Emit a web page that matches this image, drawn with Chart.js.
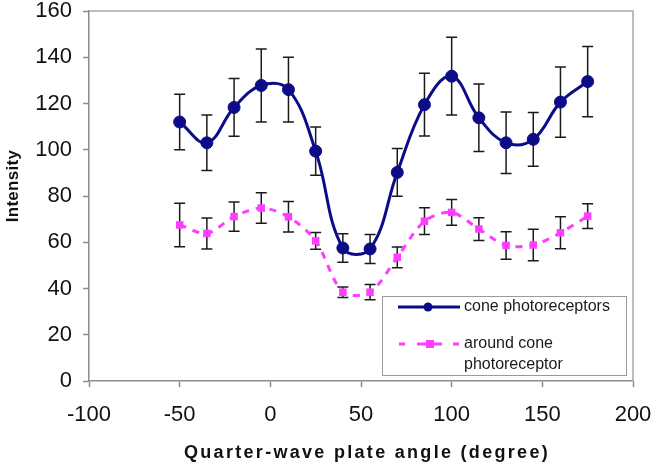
<!DOCTYPE html>
<html><head><meta charset="utf-8">
<script src="https://cdn.jsdelivr.net/npm/chart.js@4"></script>
<style>html,body{margin:0;padding:0;background:#fff;overflow:hidden}canvas{display:block}</style>
</head><body>
<canvas id="c" width="656" height="468"></canvas>
<script>
const angles = [-50, -35, -20, -5, 10, 25, 40, 55, 70, 85, 100, 115, 130, 145, 160, 175];
const coneValues = [112, 103, 118.3, 127.8, 126, 99.4, 57.5, 57.1, 90.2, 119.5, 131.8, 113.8, 103, 104.5, 120.6, 129.5];
const coneErrors = [12, 12, 12.5, 15.8, 14, 10.4, 6.2, 6.3, 10.3, 13.6, 16.8, 14.6, 13.3, 11.6, 15.2, 15.2];
const aroundValues = [67.5, 63.8, 71.1, 74.8, 71, 60.6, 38.4, 38.4, 53.5, 69.1, 72.9, 65.7, 58.6, 58.8, 64.1, 71.3];
const aroundErrors = [9.4, 6.7, 6.3, 6.6, 6.6, 3.6, 2.3, 3.3, 4.5, 5.8, 5.6, 4.9, 5.9, 6.8, 6.9, 5.4];
const xTicks = [-100, -50, 0, 50, 100, 150, 200];
const yTicks = [0, 20, 40, 60, 80, 100, 120, 140, 160];
const coneName = 'cone photoreceptors';
const aroundNameLines = ['around cone', 'photoreceptor'];
const xTitle = 'Quarter-wave plate angle (degree)';
const yTitle = 'Intensity';

const BLUE = '#0c0c88';
const PINK = '#ff3cff';
const FONT = '"Liberation Sans", Arial, sans-serif';

const toPoints = vals => angles.map((a, i) => ({x: a, y: vals[i]}));
const errorsByDataset = [coneErrors, aroundErrors];

const errorBars = {
  id: 'errorBars',
  beforeDatasetsDraw(chart) {
    const {ctx, scales: {x, y}, chartArea} = chart;
    ctx.save();
    ctx.strokeStyle = '#1a1a1a';
    ctx.lineWidth = 1.5;
    chart.data.datasets.forEach((ds, di) => {
      const errs = errorsByDataset[di];
      ds.data.forEach((p, i) => {
        const px = x.getPixelForValue(p.x);
        const top = y.getPixelForValue(p.y + errs[i]);
        const bot = y.getPixelForValue(p.y - errs[i]);
        ctx.beginPath();
        ctx.moveTo(px, top); ctx.lineTo(px, bot);
        ctx.moveTo(px - 5.5, top); ctx.lineTo(px + 5.5, top);
        ctx.moveTo(px - 5.5, bot); ctx.lineTo(px + 5.5, bot);
        ctx.stroke();
      });
    });
    ctx.restore();
  }
};

const frame = {
  id: 'frame',
  beforeDatasetsDraw(chart) {
    const {ctx, chartArea: a} = chart;
    ctx.save();
    ctx.strokeStyle = '#a8a8a8';
    ctx.lineWidth = 1.5;
    ctx.beginPath();
    ctx.moveTo(a.left, a.top); ctx.lineTo(a.right, a.top); ctx.lineTo(a.right, a.bottom);
    ctx.stroke();
    ctx.restore();
  }
};

const titles = {
  id: 'titles',
  afterDraw(chart) {
    const {ctx} = chart;
    ctx.save();
    ctx.fillStyle = '#111';
    ctx.font = 'bold 18px ' + FONT;
    ctx.letterSpacing = '2.3px';
    ctx.textAlign = 'center';
    ctx.textBaseline = 'alphabetic';
    ctx.fillText(xTitle, 367, 458);
    ctx.letterSpacing = '0.3px';
    ctx.font = 'bold 17px ' + FONT;
    ctx.translate(18, 186);
    ctx.rotate(-Math.PI / 2);
    ctx.fillText(yTitle, 0, 0);
    ctx.restore();
  }
};

const legendBox = {
  id: 'legendBox',
  afterDatasetsDraw(chart) {
    const {ctx} = chart;
    ctx.save();
    ctx.fillStyle = '#fff';
    ctx.strokeStyle = '#9a9a9a';
    ctx.lineWidth = 1;
    ctx.fillRect(382, 296, 244, 79);
    ctx.strokeRect(382.5, 296.5, 244, 79);
    // cone entry
    ctx.strokeStyle = BLUE;
    ctx.lineWidth = 3;
    ctx.beginPath(); ctx.moveTo(398, 307); ctx.lineTo(460, 307); ctx.stroke();
    ctx.fillStyle = BLUE;
    ctx.beginPath(); ctx.arc(428, 307, 4.5, 0, Math.PI * 2); ctx.fill();
    // around entry
    ctx.strokeStyle = PINK;
    ctx.lineWidth = 3;
    ctx.beginPath();
    ctx.moveTo(399, 344); ctx.lineTo(405, 344);
    ctx.moveTo(417, 344); ctx.lineTo(442, 344);
    ctx.moveTo(453, 344); ctx.lineTo(459, 344);
    ctx.stroke();
    ctx.fillStyle = PINK;
    ctx.fillRect(426, 340, 8, 8);
    ctx.fillStyle = '#1a1a1a';
    ctx.font = '16px ' + FONT;
    ctx.textAlign = 'left';
    ctx.textBaseline = 'middle';
    ctx.fillText(coneName, 464, 307);
    ctx.fillText(aroundNameLines[0], 464, 344);
    ctx.fillText(aroundNameLines[1], 464, 365);
    ctx.restore();
  }
};

new Chart(document.getElementById('c'), {
  type: 'line',
  data: {
    datasets: [
      {
        label: coneName,
        data: toPoints(coneValues),
        borderColor: BLUE,
        backgroundColor: BLUE,
        borderWidth: 3,
        tension: 0.4,
        pointRadius: 6,
        pointBorderWidth: 1,
        pointStyle: 'circle',
        pointBackgroundColor: BLUE,
        pointBorderColor: BLUE
      },
      {
        label: aroundNameLines.join(' '),
        data: toPoints(aroundValues),
        borderColor: PINK,
        backgroundColor: PINK,
        borderWidth: 3,
        borderDash: [7, 7],
        tension: 0.3,
        pointRadius: 5.3,
        pointBorderWidth: 0,
        pointStyle: 'rect',
        pointBackgroundColor: PINK,
        pointBorderColor: PINK
      }
    ]
  },
  options: {
    responsive: false,
    animation: false,
    devicePixelRatio: 1,
    layout: {padding: {left: 0, right: 23, top: 11, bottom: 0}},
    plugins: {legend: {display: false}, tooltip: {enabled: false}},
    scales: {
      x: {
        type: 'linear',
        min: -100, max: 200,
        afterBuildTicks: s => { s.ticks = xTicks.map(v => ({value: v})); },
        afterFit: s => { s.height = 87; s.paddingLeft = 0; s.paddingRight = 0; },
        grid: {display: true, drawOnChartArea: false, drawTicks: true, tickLength: 6, tickColor: '#8c8c8c', tickWidth: 1.5},
        border: {display: true, color: '#8c8c8c', width: 1.5},
        ticks: {color: '#111', font: {family: FONT, size: 22}, padding: 15, maxRotation: 0}
      },
      y: {
        type: 'linear',
        min: 0, max: 160,
        afterBuildTicks: s => { s.ticks = yTicks.map(v => ({value: v})); },
        afterFit: s => { s.width = 89; s.paddingTop = 0; s.paddingBottom = 0; },
        grid: {display: true, drawOnChartArea: false, drawTicks: true, tickLength: 6, tickColor: '#8c8c8c', tickWidth: 1.5},
        border: {display: true, color: '#8c8c8c', width: 1.5},
        ticks: {color: '#111', font: {family: FONT, size: 22}, padding: 11}
      }
    }
  },
  plugins: [frame, errorBars, legendBox, titles]
});
</script>
</body></html>
